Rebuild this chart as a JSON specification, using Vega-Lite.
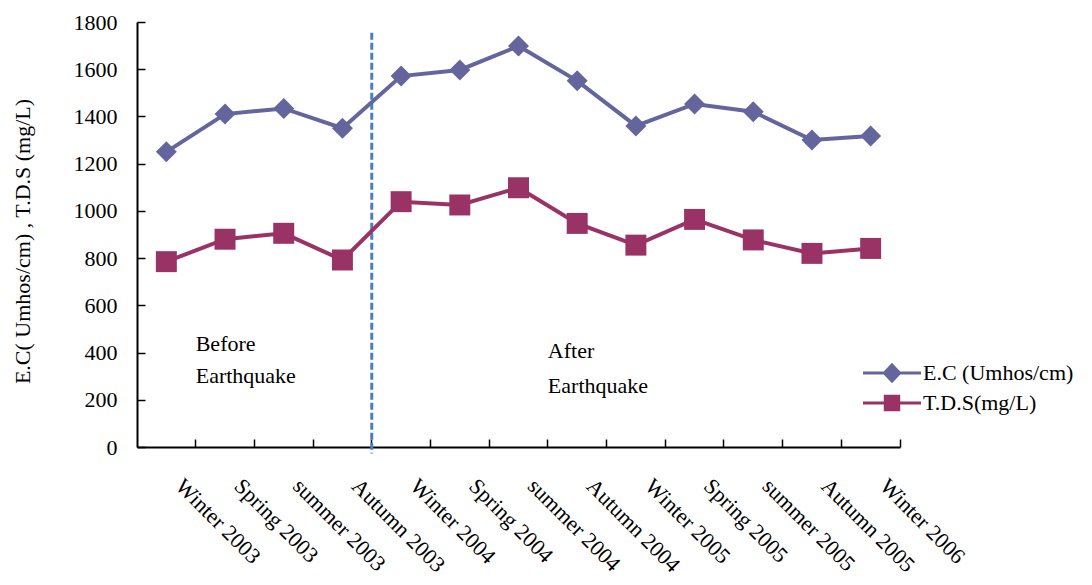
{
  "$schema": "https://vega.github.io/schema/vega-lite/v6.json",
  "width": 763,
  "height": 425,
  "autosize": {"type": "none"},
  "padding": {"left": 137, "top": 22, "right": 192, "bottom": 138},
  "background": "white",
  "config": {
    "view": {"stroke": null},
    "font": "Liberation Serif",
    "axis": {"labelFont": "Liberation Serif", "titleFont": "Liberation Serif", "labelColor": "black", "titleColor": "black", "domainColor": "black", "tickColor": "black", "grid": false}
  },
  "datasets": {
    "series": [
      {"season": "Winter 2003", "series": "E.C (Umhos/cm)", "value": 1250},
      {"season": "Spring 2003", "series": "E.C (Umhos/cm)", "value": 1410},
      {"season": "summer 2003", "series": "E.C (Umhos/cm)", "value": 1434},
      {"season": "Autumn 2003", "series": "E.C (Umhos/cm)", "value": 1350},
      {"season": "Winter 2004", "series": "E.C (Umhos/cm)", "value": 1571},
      {"season": "Spring 2004", "series": "E.C (Umhos/cm)", "value": 1597},
      {"season": "summer 2004", "series": "E.C (Umhos/cm)", "value": 1698},
      {"season": "Autumn 2004", "series": "E.C (Umhos/cm)", "value": 1551},
      {"season": "Winter 2005", "series": "E.C (Umhos/cm)", "value": 1360},
      {"season": "Spring 2005", "series": "E.C (Umhos/cm)", "value": 1453},
      {"season": "summer 2005", "series": "E.C (Umhos/cm)", "value": 1420},
      {"season": "Autumn 2005", "series": "E.C (Umhos/cm)", "value": 1300},
      {"season": "Winter 2006", "series": "E.C (Umhos/cm)", "value": 1317},
      {"season": "Winter 2003", "series": "T.D.S(mg/L)", "value": 785},
      {"season": "Spring 2003", "series": "T.D.S(mg/L)", "value": 880},
      {"season": "summer 2003", "series": "T.D.S(mg/L)", "value": 905},
      {"season": "Autumn 2003", "series": "T.D.S(mg/L)", "value": 792},
      {"season": "Winter 2004", "series": "T.D.S(mg/L)", "value": 1039},
      {"season": "Spring 2004", "series": "T.D.S(mg/L)", "value": 1025},
      {"season": "summer 2004", "series": "T.D.S(mg/L)", "value": 1098},
      {"season": "Autumn 2004", "series": "T.D.S(mg/L)", "value": 947},
      {"season": "Winter 2005", "series": "T.D.S(mg/L)", "value": 855},
      {"season": "Spring 2005", "series": "T.D.S(mg/L)", "value": 964},
      {"season": "summer 2005", "series": "T.D.S(mg/L)", "value": 877},
      {"season": "Autumn 2005", "series": "T.D.S(mg/L)", "value": 820},
      {"season": "Winter 2006", "series": "T.D.S(mg/L)", "value": 841}
    ],
    "notes": [
      {"season": "Spring 2003", "value": 405, "label": "Before"},
      {"season": "Spring 2003", "value": 271, "label": "Earthquake"},
      {"season": "Autumn 2004", "value": 375, "label": "After"},
      {"season": "Autumn 2004", "value": 229, "label": "Earthquake"}
    ],
    "quake": [
      {"season": "Winter 2004", "value": 1754, "bottom": -27}
    ]
  },
  "encoding": {
    "x": {
      "field": "season",
      "type": "nominal",
      "sort": null,
      "scale": {
        "domain": ["Winter 2003", "Spring 2003", "summer 2003", "Autumn 2003", "Winter 2004", "Spring 2004", "summer 2004", "Autumn 2004", "Winter 2005", "Spring 2005", "summer 2005", "Autumn 2005", "Winter 2006"],
        "paddingInner": 0,
        "paddingOuter": 0
      },
      "axis": {
        "title": null,
        "bandPosition": 1,
        "labelAngle": 45,
        "labelAlign": "left",
        "labelBaseline": "top",
        "labelFontSize": 22,
        "labelPadding": 36,
        "labelOffset": 20,
        "labelOverlap": false,
        "labelFlush": false,
        "labelBound": false,
        "tickSize": -8,
        "tickWidth": 1.5,
        "domainWidth": 2
      }
    },
    "y": {
      "field": "value",
      "type": "quantitative",
      "scale": {"domain": [0, 1800], "nice": false, "zero": true},
      "axis": {
        "title": "E.C( Umhos/cm) , T.D.S (mg/L)",
        "values": [0, 200, 400, 600, 800, 1000, 1200, 1400, 1600, 1800],
        "format": "d",
        "tickSize": -8,
        "tickWidth": 1.5,
        "domainWidth": 2,
        "labelFontSize": 22,
        "labelPadding": 28,
        "titleFontSize": 22,
        "titleFontWeight": "normal",
        "titleX": -115,
        "titleY": 219,
        "titleBaseline": "middle",
        "titleAlign": "center",
        "titleAngle": -90
      }
    }
  },
  "layer": [
    {
      "data": {"name": "quake"},
      "mark": {"type": "rule", "color": "#4A7EBF", "strokeWidth": 3, "strokeDash": [7, 3]},
      "encoding": {
        "x": {"field": "season", "type": "nominal", "bandPosition": 0},
        "y2": {"field": "bottom"}
      }
    },
    {
      "data": {"name": "series"},
      "mark": {"type": "line", "strokeWidth": 4},
      "encoding": {
        "color": {
          "field": "series",
          "type": "nominal",
          "scale": {"domain": ["E.C (Umhos/cm)", "T.D.S(mg/L)"], "range": ["#65659E", "#993366"]},
          "legend": {
            "title": null,
            "orient": "none",
            "legendX": 744,
            "legendY": 340,
            "padding": 0,
            "symbolSize": 210,
            "symbolStrokeWidth": 3,
            "symbolType": "M-4,0L4,0M0,-1.1L1.05,0L0,1.1L-1.05,0Z",
            "labelFont": "Liberation Serif",
            "labelFontSize": 22,
            "labelColor": "black",
            "labelOffset": 20,
            "rowPadding": 3,
            "labelLimit": 300,
            "encode": {
              "symbols": {
                "update": {
                  "shape": {"signal": "datum.value === 'E.C (Umhos/cm)' ? 'M-4,0L4,0M0,-1.1L1.05,0L0,1.1L-1.05,0Z' : 'M-4,0L4,0M-0.93,-0.93L0.93,-0.93L0.93,0.93L-0.93,0.93Z'"},
                  "fill": {"signal": "datum.value === 'E.C (Umhos/cm)' ? '#65659E' : '#993366'"},
                  "stroke": {"signal": "datum.value === 'E.C (Umhos/cm)' ? '#65659E' : '#993366'"},
                  "strokeWidth": {"value": 3},
                  "strokeOpacity": {"value": 1},
                  "opacity": {"value": 1}
                }
              }
            }
          }
        }
      }
    },
    {
      "data": {"name": "series"},
      "transform": [{"filter": "datum.series === 'E.C (Umhos/cm)'"}],
      "mark": {"type": "point", "filled": true, "opacity": 1, "size": 440, "shape": "diamond", "color": "#65659E"},
      "encoding": {}
    },
    {
      "data": {"name": "series"},
      "transform": [{"filter": "datum.series === 'T.D.S(mg/L)'"}],
      "mark": {"type": "point", "filled": true, "opacity": 1, "size": 440, "shape": "square", "color": "#993366"},
      "encoding": {}
    },
    {
      "data": {"name": "notes"},
      "mark": {"type": "text", "align": "left", "baseline": "alphabetic", "font": "Liberation Serif", "fontSize": 22, "color": "black"},
      "encoding": {
        "x": {"field": "season", "type": "nominal", "bandPosition": 0},
        "text": {"field": "label"}
      }
    }
  ]
}
